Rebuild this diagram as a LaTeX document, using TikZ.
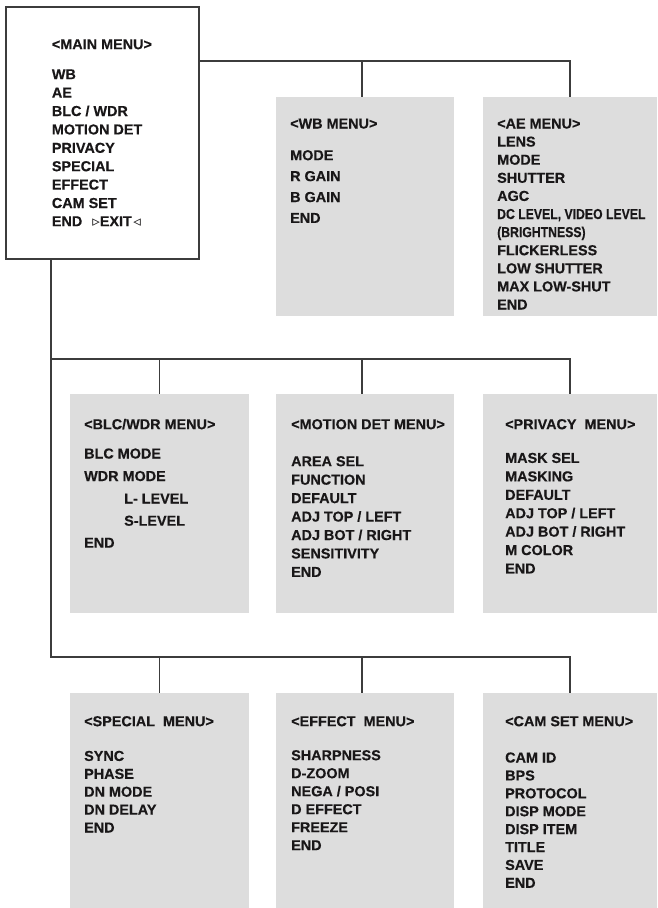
\documentclass[tikz,border=0pt]{standalone}
\usepackage{fontspec}
\setmainfont[BoldFeatures={FakeBold=0.35}]{Liberation Sans}
\newfontfamily\condfont[FakeStretch=0.85,BoldFeatures={FakeBold=0.35}]{Liberation Sans}
\newfontfamily\symfont{DejaVu Sans}
\definecolor{boxgray}{RGB}{221,221,221}
\definecolor{linecol}{RGB}{60,60,60}
\definecolor{txtcol}{RGB}{25,23,24}
\begin{document}
\begin{tikzpicture}[x=1pt,y=-1pt,
  menubox/.style={fill=boxgray, draw=none, anchor=north west, inner sep=0pt, outer sep=0pt},
  mainbox/.style={draw=linecol, line width=1.1pt, fill=white, anchor=north west, inner sep=0pt, outer sep=0pt},
  item/.style={anchor=base west, inner sep=0pt, font=\fontsize{14.4}{16}\selectfont\bfseries, text=txtcol},
  link/.style={draw=linecol, line width=1.1pt}]
\useasboundingbox (0,0) rectangle (657,908);

% boxes
\node[mainbox, minimum width=193pt, minimum height=252pt] (main) at (6,7) {};
\node[menubox, minimum width=178pt, minimum height=219pt] (wb) at (276,97) {};
\node[menubox, minimum width=174pt, minimum height=219pt] (ae) at (483,97) {};
\node[menubox, minimum width=179pt, minimum height=219pt] (blc) at (70,394) {};
\node[menubox, minimum width=178pt, minimum height=219pt] (motion) at (276,394) {};
\node[menubox, minimum width=174pt, minimum height=219pt] (priv) at (483,394) {};
\node[menubox, minimum width=179pt, minimum height=215pt] (spec) at (70,693) {};
\node[menubox, minimum width=178pt, minimum height=215pt] (eff) at (276,693) {};
\node[menubox, minimum width=174pt, minimum height=215pt] (cam) at (483,693) {};

% connectors
\coordinate (jt) at (570,61);
\coordinate (tw) at (362,61);
\draw[link] (main.east |- jt) -| (ae.north);
\draw[link] (tw) -- (tw |- wb.north);

\coordinate (r2) at (51,359);
\coordinate (m2) at (362,359);
\coordinate (r3) at (51,657);
\coordinate (m3) at (362,657);
\draw[link] (main.south -| r3) -- (r3) -| (cam.north);
\draw[link] (r2) -| (priv.north);
\draw[link] (r2 -| blc.north) -- (blc.north);
\draw[link] (m2) -- (m2 |- motion.north);
\draw[link] (r3 -| spec.north) -- (spec.north);
\draw[link] (m3) -- (m3 |- eff.north);

% main menu text
\node[item] (mt) at (51.7,{44+5.2}) {<MAIN MENU>};
\foreach \t [count=\i from 0] in {WB, AE, BLC / WDR, MOTION DET, PRIVACY, SPECIAL, EFFECT, CAM SET}
  \node[item] (m-\i) at (51.7,{74+18.4*\i+5.2}) {\t};
\node[item] (mend) at (51.7,{221+5.2}) {END\hspace{10pt}{\symfont\mdseries\fontsize{15}{16}\selectfont ▹}EXIT\hspace{1.5pt}{\symfont\mdseries\fontsize{15}{16}\selectfont ◃}};

% WB menu
\node[item] (wbt) at (290,{123.3+5.2}) {<WB MENU>};
\foreach \t [count=\i from 0] in {MODE, R GAIN, B GAIN, END}
  \node[item] (wb-\i) at (290,{155+20.9*\i+5.2}) {\t};

% AE menu
\foreach \t [count=\i from 0] in {<AE MENU>, LENS, MODE, SHUTTER, AGC, {{\condfont DC LEVEL, VIDEO LEVEL}}, {{\condfont (BRIGHTNESS)}}, FLICKERLESS, LOW SHUTTER, MAX LOW-SHUT, END}
  \node[item] (ae-\i) at (497,{123.3+18.1*\i+5.2}) {\t};

% BLC/WDR menu
\node[item] (blct) at (84,{424+5.2}) {<BLC/WDR MENU>};
\node[item] (blc-0) at (84,{453.3+5.2}) {BLC MODE};
\node[item] (blc-1) at (84,{475.8+5.2}) {WDR MODE};
\node[item] (blc-2) at (124,{498.3+5.2}) {L- LEVEL};
\node[item] (blc-3) at (124,{520.5+5.2}) {S-LEVEL};
\node[item] (blc-4) at (84,{542.5+5.2}) {END};

% Motion menu
\node[item] (mdt) at (291,{424+5.2}) {<MOTION DET MENU>};
\foreach \t [count=\i from 0] in {AREA SEL, FUNCTION, DEFAULT, ADJ TOP / LEFT, ADJ BOT / RIGHT, SENSITIVITY, END}
  \node[item] (md-\i) at (291,{461+18.45*\i+5.2}) {\t};

% Privacy menu
\node[item] (pvt) at (505,{424+5.2}) {<PRIVACY\ \ MENU>};
\foreach \t [count=\i from 0] in {MASK SEL, MASKING, DEFAULT, ADJ TOP / LEFT, ADJ BOT / RIGHT, M COLOR, END}
  \node[item] (pv-\i) at (505,{457.7+18.43*\i+5.2}) {\t};

% Special menu
\node[item] (spt) at (84,{721+5.2}) {<SPECIAL\ \ MENU>};
\foreach \t [count=\i from 0] in {SYNC, PHASE, DN MODE, DN DELAY, END}
  \node[item] (sp-\i) at (84,{755.7+17.9*\i+5.2}) {\t};

% Effect menu
\node[item] (eft) at (291,{721+5.2}) {<EFFECT\ \ MENU>};
\foreach \t [count=\i from 0] in {SHARPNESS, D-ZOOM, NEGA / POSI, D EFFECT, FREEZE, END}
  \node[item] (ef-\i) at (291,{755+18*\i+5.2}) {\t};

% Cam set menu
\node[item] (cmt) at (505,{721+5.2}) {<CAM SET MENU>};
\foreach \t [count=\i from 0] in {CAM ID, BPS, PROTOCOL, DISP MODE, DISP ITEM, TITLE, SAVE, END}
  \node[item] (cm-\i) at (505,{757.3+17.9*\i+5.2}) {\t};
\end{tikzpicture}
\end{document}
